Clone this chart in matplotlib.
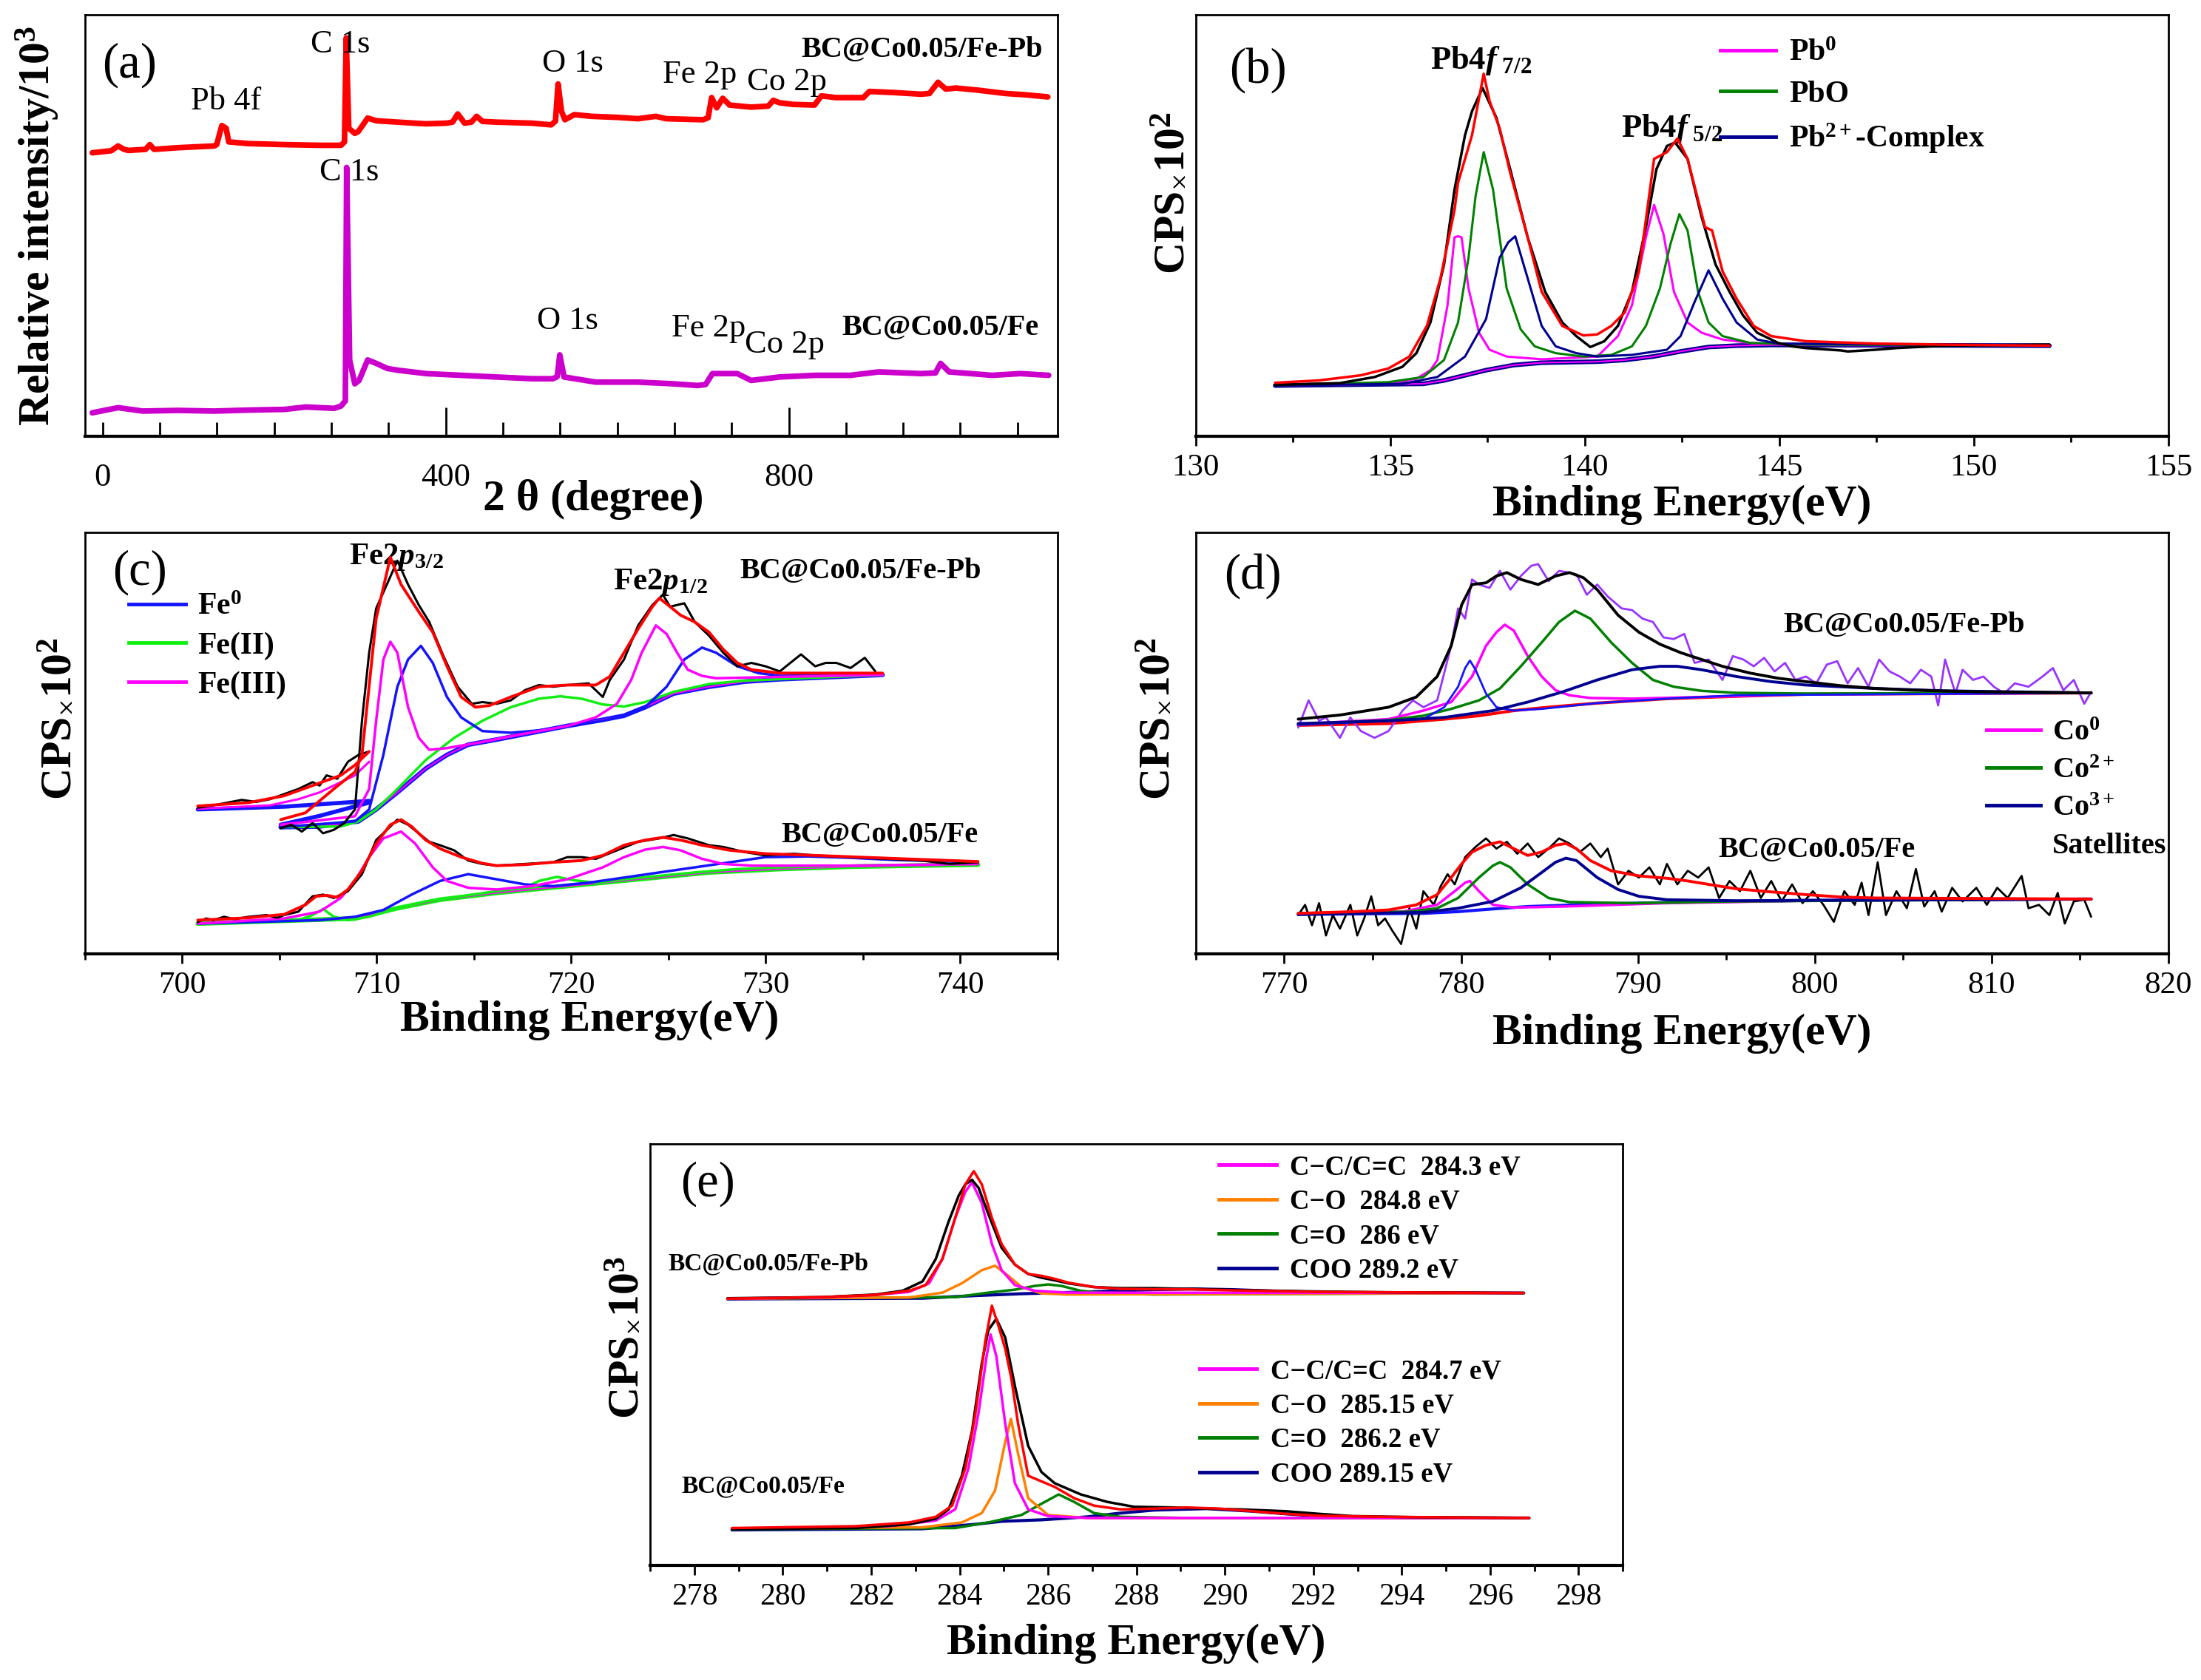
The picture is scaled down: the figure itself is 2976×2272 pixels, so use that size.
import matplotlib
matplotlib.use("Agg")
import matplotlib.pyplot as plt
from matplotlib.ticker import MultipleLocator, FixedLocator
from matplotlib.lines import Line2D

plt.rcParams['font.family'] = ['Liberation Serif', 'DejaVu Serif']
plt.rcParams['mathtext.fontset'] = 'custom'
plt.rcParams['mathtext.rm'] = 'Liberation Serif'
plt.rcParams['mathtext.it'] = 'Liberation Serif:italic'
plt.rcParams['mathtext.bf'] = 'Liberation Serif:bold'
try:
    plt.rcParams['mathtext.bfit'] = 'Liberation Serif:italic:bold'
except KeyError:
    pass

# ---------------- colours ----------------
RED = '#FF0000'; MAG = '#FF00FF'; GRN = '#008000'; LIME = '#11EE11'
BLUE = '#1414FF'; NAVY = '#000090'; ORANGE = '#FF8000'; PURPLE = '#9933FF'
A_MAG = '#CC00CC'

# ================= DATA (y in arbitrary counts) =================
# (a) survey spectra
A_FEPB = [(-12, 832), (10, 838), (18, 852), (25, 842), (30, 839), (50, 842), (55, 856), (60, 842), (88, 847),
          (130, 852), (133, 856), (139, 912), (144, 904), (147, 864), (170, 859), (212, 856), (253, 854),
          (278, 854), (282, 864), (284, 1169), (287, 904), (294, 889), (298, 894), (309, 934), (319, 926),
          (344, 922), (377, 917), (401, 919), (408, 922), (414, 946), (422, 919), (430, 922), (436, 939),
          (443, 924), (459, 922), (500, 919), (523, 914), (528, 925), (531, 1034), (535, 954), (539, 929),
          (550, 944), (570, 939), (600, 936), (624, 932), (645, 939), (657, 932), (700, 929), (706, 935),
          (710, 994), (716, 964), (723, 992), (731, 972), (756, 966), (776, 969), (782, 986), (789, 979),
          (805, 974), (830, 972), (838, 999), (855, 994), (887, 994), (894, 1012), (921, 1009), (954, 1004),
          (964, 1006), (974, 1039), (983, 1019), (995, 1022), (1020, 1016), (1053, 1006), (1077, 1002), (1102, 996)]
A_FE = [(-12, 69), (18, 84), (47, 74), (88, 76), (130, 74), (171, 77), (212, 79), (237, 86), (270, 82), (278, 89),
        (283, 104), (284.5, 789), (288, 224), (294, 154), (299, 164), (309, 224), (319, 214), (332, 199), (344, 194),
        (377, 184), (418, 179), (459, 174), (501, 169), (525, 169), (530, 175), (533, 239), (538, 174), (575, 159),
        (624, 159), (666, 154), (694, 149), (703, 152), (711, 184), (740, 184), (756, 164), (773, 169), (789, 174),
        (831, 179), (872, 179), (905, 189), (954, 184), (971, 186), (977, 214), (987, 189), (1037, 179),
        (1070, 184), (1103, 179)]
A_TICKS = [0, 400, 800]

# (b) Pb 4f
B_RAW = [(132.04, 151), (133.70, 156), (134.60, 174), (135.31, 204), (135.67, 244), (136.03, 334), (136.38, 504),
         (136.65, 724), (136.92, 884), (137.10, 954), (137.37, 1022), (137.73, 934), (138.08, 784), (138.53, 584),
         (138.98, 424), (139.42, 334), (139.78, 294), (140.14, 262), (140.50, 279), (140.85, 324), (141.21, 424),
         (141.57, 614), (141.84, 784), (142.11, 852), (142.32, 862), (142.64, 814), (143.00, 644), (143.36, 504),
         (143.72, 424), (144.07, 354), (144.43, 304), (144.97, 274), (145.33, 264), (145.68, 259), (146.58, 252),
         (146.76, 249), (147.47, 254), (148.01, 259), (148.54, 262), (149.26, 266), (151.94, 269)]
B_FIT = [(132.04, 157), (133.17, 164), (134.24, 179), (134.95, 199), (135.49, 234), (135.94, 324), (136.29, 464),
         (136.65, 664), (136.74, 744), (137.10, 884), (137.40, 1064), (137.55, 984), (137.81, 904), (138.08, 774),
         (138.53, 584), (138.89, 424), (139.42, 324), (139.96, 296), (140.32, 299), (140.68, 324), (141.03, 364),
         (141.39, 484), (141.78, 814), (142.11, 834), (142.38, 874), (142.64, 814), (143.09, 614), (143.27, 604),
         (143.54, 484), (143.90, 404), (144.34, 324), (144.79, 294), (145.68, 279), (147.47, 272), (149.26, 269),
         (151.94, 266)]
B_BG = [(132.04, 149), (135.85, 154), (136.38, 164), (136.74, 174), (137.46, 194), (138.17, 209), (138.89, 216),
        (140.32, 219), (141.03, 224), (141.75, 234), (142.46, 249), (143.18, 262), (143.90, 266), (144.79, 268),
        (151.94, 266)]
B_PB0 = [(132.04, 149), (134.95, 154), (135.67, 169), (136.03, 194), (136.21, 224), (136.47, 384), (136.65, 584),
         (136.74, 587), (136.83, 584), (137.01, 434), (137.28, 304), (137.55, 254), (137.99, 234), (138.89, 226),
         (140.32, 234), (140.85, 294), (141.21, 384), (141.57, 584), (141.78, 679), (142.02, 594), (142.29, 424),
         (142.64, 334), (143.00, 304), (143.54, 284), (144.25, 274), (145.68, 268), (151.94, 266)]
B_PBO = [(132.04, 149), (134.95, 159), (135.85, 174), (136.38, 224), (136.74, 334), (137.01, 524), (137.19, 704),
         (137.40, 834), (137.64, 724), (137.99, 434), (138.35, 314), (138.71, 264), (139.25, 244), (139.96, 234),
         (140.68, 239), (141.21, 264), (141.57, 324), (141.93, 434), (142.20, 564), (142.43, 652), (142.64, 604),
         (142.91, 424), (143.18, 334), (143.54, 294), (144.25, 274), (145.68, 269), (151.94, 266)]
B_PB2 = [(132.04, 149), (135.31, 154), (136.21, 174), (136.92, 234), (137.46, 344), (137.81, 524), (138.03, 569),
         (138.21, 587), (138.53, 464), (138.89, 324), (139.25, 264), (139.78, 244), (140.32, 234), (141.21, 239),
         (142.11, 254), (142.46, 294), (142.82, 394), (143.18, 487), (143.54, 404), (143.90, 334), (144.43, 284),
         (144.97, 272), (151.94, 266)]
B_LABELS = [r'$\mathbf{Pb^0}$', 'PbO', r'$\mathbf{Pb^{2+}}$-Complex']

# (c) Fe 2p  -- upper: BC@Co0.05/Fe-Pb
C_PB_RAW_A = [(700.80, 429), (701.60, 436), (702.33, 444), (703.06, 452), (703.79, 446), (704.51, 454), (705.24, 469),
              (705.97, 484), (706.70, 504), (707.06, 494), (707.42, 524), (707.97, 514), (708.52, 564), (709.06, 584),
              (709.61, 594)]
C_PB_RAW = [(705.06, 369), (705.61, 379), (706.15, 359), (706.70, 384), (707.24, 354), (707.79, 364), (708.33, 384),
            (708.88, 424), (709.24, 684), (709.61, 884), (709.97, 1014), (710.52, 1084), (711.06, 1154), (711.61, 1084),
            (712.16, 1024), (712.70, 974), (713.43, 874), (714.16, 784), (714.89, 734), (715.43, 739), (716.16, 734),
            (716.89, 744), (717.62, 774), (718.34, 789), (719.07, 784), (719.80, 789), (720.89, 794), (721.62, 754),
            (721.98, 804), (722.71, 864), (723.44, 964), (724.17, 1024), (724.71, 1054), (725.08, 1019), (725.81, 1029),
            (726.35, 974), (727.08, 934), (727.81, 884), (728.54, 844), (729.26, 854), (729.99, 844), (730.72, 829),
            (731.26, 854), (731.81, 879), (732.54, 844), (733.08, 854), (733.63, 854), (734.36, 839), (735.09, 869),
            (735.63, 829)]
C_PB_FIT_A = [(700.80, 434), (703.42, 444), (705.24, 464), (706.70, 494), (707.42, 509), (708.15, 524), (708.88, 554),
              (709.61, 594)]
C_PB_FIT = [(705.06, 394), (706.33, 414), (707.79, 484), (708.88, 534), (709.24, 584), (709.97, 984), (710.70, 1164),
            (711.25, 1084), (712.16, 1004), (712.88, 944), (713.61, 844), (714.34, 754), (715.07, 724), (715.80, 729),
            (716.89, 754), (718.34, 784), (719.80, 789), (721.26, 789), (721.98, 814), (722.71, 884), (723.44, 954),
            (724.17, 1019), (724.53, 1044), (725.08, 1019), (725.62, 994), (726.35, 974), (727.08, 944), (727.81, 894),
            (728.54, 854), (729.26, 834), (730.72, 824), (732.54, 824), (736.00, 824)]
C_PB_BG = [(705.06, 372), (707.06, 374), (709.06, 389), (709.97, 424), (711.06, 474), (712.52, 544), (713.61, 584),
           (714.70, 614), (716.16, 629), (717.98, 649), (719.80, 669), (721.62, 687), (722.71, 699), (723.80, 724),
           (725.26, 764), (727.08, 784), (728.90, 799), (730.72, 806), (736.00, 819)]
C_PB_FE0 = [(705.06, 372), (708.88, 389), (709.61, 424), (710.34, 584), (711.06, 784), (711.61, 864), (712.27, 904),
            (712.88, 854), (713.61, 754), (714.34, 694), (715.43, 654), (716.89, 649), (718.34, 656), (719.80, 669),
            (721.62, 684), (722.71, 699), (723.80, 724), (724.90, 784), (725.81, 864), (726.72, 899), (727.44, 884),
            (728.54, 844), (729.63, 824), (730.72, 816), (736.00, 821)]
C_PB_FE2 = [(705.06, 372), (708.15, 374), (709.06, 389), (709.97, 424), (711.06, 484), (712.52, 569), (713.98, 634),
            (715.43, 684), (716.89, 724), (718.34, 749), (719.44, 756), (720.53, 749), (721.62, 732), (722.71, 726),
            (723.80, 739), (725.26, 769), (727.08, 792), (728.90, 802), (736.00, 819)]
C_PB_FE3 = [(705.06, 379), (708.88, 404), (709.61, 484), (709.97, 684), (710.34, 864), (710.70, 916), (711.06, 884),
            (711.61, 724), (712.16, 634), (712.70, 599), (713.61, 604), (715.43, 622), (716.89, 639), (718.34, 654),
            (719.80, 669), (721.26, 694), (722.35, 734), (723.08, 804), (723.62, 884), (724.35, 964), (724.90, 939),
            (725.44, 884), (725.99, 834), (726.72, 816), (727.44, 809), (736.00, 819)]
C_PB_FE0_A = [(700.80, 424), (705.24, 432), (709.61, 449)]
C_PB_FE0_A2 = [(705.06, 379), (707.06, 405), (709.61, 444)]
C_PB_FE3_A = [(700.80, 426), (704.51, 436), (705.97, 454), (707.06, 474), (708.15, 504), (708.88, 524), (709.61, 564)]
C_PB_FE2_A = [(700.80, 424), (709.61, 444)]
# (c) lower: BC@Co0.05/Fe
C_FE_RAW = [(700.80, 94), (701.24, 104), (701.60, 99), (702.15, 109), (702.69, 102), (703.42, 109), (704.33, 114),
            (704.88, 106), (705.24, 114), (705.97, 124), (706.70, 169), (707.24, 174), (707.79, 164), (708.52, 184),
            (709.24, 234), (709.97, 334), (710.52, 364), (711.06, 394), (711.61, 379), (712.16, 354), (712.70, 329),
            (713.25, 319), (713.98, 304), (714.70, 274), (715.43, 264), (716.16, 259), (717.62, 264), (719.07, 269),
            (719.80, 284), (720.53, 284), (721.26, 279), (722.35, 304), (723.44, 329), (724.53, 339), (725.26, 349),
            (725.99, 339), (727.08, 319), (727.81, 314), (728.90, 299), (729.99, 289), (731.45, 294), (732.54, 289),
            (734.36, 284), (736.18, 279), (738.00, 274), (739.45, 264), (740.91, 269)]
C_FE_FIT = [(700.80, 99), (703.42, 106), (705.24, 116), (706.33, 144), (706.88, 169), (707.42, 172), (707.97, 166),
            (708.52, 189), (709.24, 244), (709.97, 324), (710.70, 379), (711.25, 394), (711.79, 374), (712.52, 334),
            (713.25, 309), (714.34, 284), (715.43, 266), (716.16, 259), (717.62, 262), (719.07, 269), (720.53, 274),
            (721.62, 289), (722.71, 319), (723.80, 334), (724.71, 342), (725.62, 334), (726.72, 319), (728.17, 304),
            (729.99, 294), (732.54, 289), (736.18, 281), (740.91, 271)]
C_FE_FE3 = [(700.80, 89), (705.24, 104), (707.06, 124), (708.15, 164), (708.88, 214), (709.61, 284), (710.34, 339),
            (711.25, 359), (711.97, 324), (712.88, 254), (713.61, 214), (714.70, 194), (716.16, 189), (717.98, 199),
            (719.80, 219), (721.62, 254), (722.71, 284), (723.80, 306), (724.71, 314), (725.62, 304), (726.72, 279),
            (727.81, 264), (729.26, 259), (734.36, 259), (740.91, 264)]
C_FE_FE0 = [(700.80, 89), (707.06, 99), (708.88, 109), (710.34, 129), (711.79, 174), (713.25, 214), (714.70, 234),
            (716.16, 219), (717.62, 204), (719.07, 199), (720.89, 209), (722.71, 224), (724.53, 239), (726.35, 254),
            (728.17, 269), (729.99, 284), (732.17, 286), (734.36, 282), (736.54, 276), (740.91, 269)]
C_FE_FE2 = [(700.80, 89), (705.97, 99), (706.70, 114), (707.24, 132), (707.79, 109), (708.52, 99), (709.61, 109),
            (711.06, 134), (712.52, 154), (714.34, 169), (716.16, 184), (717.62, 194), (718.34, 214), (719.25, 226),
            (720.16, 216), (721.26, 209), (722.71, 219), (724.53, 229), (726.35, 239), (728.54, 249), (730.72, 254),
            (734.36, 259), (740.91, 264)]
C_FE_BG = [(700.80, 89), (708.88, 104), (711.06, 134), (713.25, 159), (716.16, 179), (719.80, 199), (723.44, 219),
           (727.08, 239), (730.72, 249), (734.36, 256), (740.91, 262)]
C_LABELS = [r'$\mathbf{Fe^0}$', 'Fe(II)', 'Fe(III)']

# (d) Co 2p -- upper: BC@Co0.05/Fe-Pb
D_PB_RAW = [(770.79, 664), (771.38, 744), (771.97, 684), (772.36, 694), (773.15, 634), (773.74, 694), (774.33, 654),
            (775.11, 634), (775.90, 654), (776.69, 714), (777.28, 744), (777.87, 724), (778.65, 744), (779.44, 904),
            (779.83, 1014), (780.23, 984), (780.62, 1099), (781.01, 1084), (781.61, 1074), (782.20, 1124), (782.79, 1069),
            (783.38, 1109), (783.97, 1139), (784.36, 1144), (784.95, 1094), (785.54, 1124), (786.13, 1119), (786.52, 1114),
            (787.11, 1054), (787.70, 1084), (788.29, 1049), (789.08, 1014), (789.67, 1009), (790.26, 984), (790.85, 974),
            (791.44, 929), (792.03, 924), (792.62, 939), (793.21, 854), (794.00, 864), (794.78, 804), (795.37, 874),
            (795.96, 864), (796.55, 844), (797.14, 869), (797.73, 829), (798.32, 854), (798.91, 804), (799.50, 814),
            (800.09, 794), (800.68, 849), (801.27, 859), (801.86, 794), (802.45, 839), (803.04, 784), (803.64, 864),
            (804.23, 829), (804.81, 814), (805.40, 794), (806.00, 834), (806.59, 814), (806.98, 729), (807.37, 864),
            (807.96, 764), (808.36, 834), (808.95, 804), (809.54, 814), (810.13, 784), (810.72, 764), (811.31, 794),
            (812.09, 784), (812.88, 814), (813.47, 839), (814.06, 774), (814.65, 804), (815.24, 734), (815.63, 769)]
D_PB_ENV = [(770.79, 689), (773.15, 701), (775.90, 724), (777.47, 754), (778.65, 814), (779.44, 904), (780.03, 1024),
            (780.62, 1084), (781.41, 1089), (782.00, 1109), (782.59, 1119), (783.38, 1099), (784.36, 1084), (785.34, 1109),
            (786.13, 1119), (786.92, 1104), (787.70, 1069), (788.88, 994), (790.06, 944), (791.24, 909), (792.42, 884),
            (793.60, 864), (794.78, 844), (796.36, 824), (797.93, 809), (799.50, 799), (801.47, 787), (803.44, 779),
            (805.40, 774), (809.34, 769), (815.63, 766)]
D_PB_CO0 = [(770.79, 674), (775.90, 689), (777.87, 714), (779.44, 739), (780.62, 814), (781.41, 904), (782.00, 944),
            (782.47, 966), (782.98, 949), (783.77, 874), (784.56, 814), (785.34, 774), (786.13, 759), (787.31, 751),
            (789.67, 749), (793.60, 754), (799.50, 762), (815.63, 766)]
D_PB_CO2 = [(770.79, 674), (775.90, 686), (777.87, 699), (779.44, 719), (781.01, 744), (782.20, 779), (783.38, 844),
            (784.56, 914), (785.54, 974), (786.44, 1007), (787.31, 984), (788.49, 914), (789.67, 854), (790.85, 804),
            (792.03, 784), (793.60, 772), (795.57, 766), (799.50, 764), (815.63, 766)]
D_PB_NARROW = [(770.79, 672), (777.87, 689), (779.05, 724), (779.83, 784), (780.23, 839), (780.50, 861), (780.82, 834),
               (781.41, 764), (782.00, 724), (782.98, 714), (784.56, 719), (787.70, 736), (791.64, 749), (795.57, 759),
               (815.63, 766)]
D_PB_CO3 = [(770.79, 676), (775.90, 684), (779.05, 694), (781.80, 714), (783.77, 739), (785.74, 769), (787.70, 804),
            (789.67, 834), (791.24, 844), (792.23, 844), (793.60, 834), (795.57, 814), (797.54, 799), (799.50, 789),
            (803.44, 779), (807.37, 772), (815.63, 766)]
D_PB_BG = [(770.79, 671), (775.90, 676), (779.05, 689), (781.01, 699), (782.98, 714), (784.95, 724), (787.70, 736),
           (791.64, 749), (795.57, 756), (799.50, 762), (815.63, 766)]
# (d) lower: BC@Co0.05/Fe
D_FE_RAW = [(770.79, 114), (771.18, 144), (771.57, 84), (771.97, 149), (772.36, 54), (772.75, 114), (773.15, 74),
            (773.74, 144), (774.13, 54), (774.52, 104), (774.92, 169), (775.31, 84), (775.70, 104), (776.10, 69),
            (776.61, 29), (777.08, 134), (777.47, 74), (777.87, 184), (778.46, 144), (778.85, 199), (779.24, 234),
            (779.64, 204), (780.23, 284), (780.82, 314), (781.41, 339), (782.00, 309), (782.59, 329), (783.18, 294),
            (783.77, 324), (784.36, 284), (784.95, 309), (785.54, 339), (786.13, 324), (786.72, 299), (787.31, 324),
            (787.90, 284), (788.29, 309), (788.88, 204), (789.47, 244), (790.06, 224), (790.65, 254), (791.24, 204),
            (791.64, 264), (792.23, 204), (792.82, 244), (793.41, 224), (794.00, 254), (794.59, 164), (795.18, 214),
            (795.77, 184), (796.36, 244), (796.95, 164), (797.54, 214), (798.13, 154), (798.72, 204), (799.31, 149),
            (799.90, 184), (800.49, 144), (801.08, 94), (801.67, 184), (802.26, 144), (802.65, 209), (803.04, 114),
            (803.56, 269), (804.03, 114), (804.62, 184), (805.21, 134), (805.72, 249), (806.19, 139), (806.78, 184),
            (807.18, 124), (807.77, 194), (808.36, 154), (809.14, 194), (809.73, 144), (810.32, 194), (810.91, 164),
            (811.70, 229), (812.09, 134), (812.68, 144), (813.27, 114), (813.74, 179), (814.14, 89), (814.65, 154),
            (815.24, 159), (815.63, 109)]
D_FE_FIT = [(770.79, 119), (773.93, 124), (775.90, 129), (777.47, 144), (778.65, 174), (779.44, 224), (780.03, 264),
            (780.62, 299), (781.41, 319), (782.20, 329), (782.98, 309), (783.77, 289), (784.56, 299), (785.34, 319),
            (785.93, 324), (786.52, 309), (787.31, 274), (788.49, 244), (790.06, 229), (791.64, 222), (792.82, 214),
            (794.00, 204), (795.57, 191), (797.54, 182), (799.50, 174), (801.47, 167), (803.44, 164), (815.63, 161)]
D_FE_CO0 = [(770.79, 119), (776.69, 124), (778.65, 144), (779.64, 184), (780.23, 209), (780.50, 214), (781.01, 184),
            (781.80, 144), (782.98, 136), (785.74, 139), (791.64, 149), (799.50, 156), (815.63, 161)]
D_FE_CO2 = [(770.79, 119), (777.08, 124), (778.65, 134), (779.83, 164), (781.01, 224), (781.80, 259), (782.20, 269),
            (782.79, 254), (783.77, 204), (784.95, 164), (786.13, 152), (789.67, 149), (795.57, 154), (815.63, 161)]
D_FE_CO3 = [(770.79, 116), (777.87, 122), (779.83, 134), (781.80, 154), (783.38, 194), (784.56, 239), (785.34, 269),
            (785.93, 281), (786.52, 274), (787.70, 224), (788.88, 189), (790.06, 169), (791.64, 159), (795.57, 156),
            (815.63, 161)]
D_FE_BG = [(770.79, 116), (777.87, 119), (779.83, 124), (781.80, 132), (783.77, 139), (787.70, 146), (791.64, 151),
           (799.50, 157), (815.63, 161)]
D_LABELS = [r'$\mathbf{Co^0}$', r'$\mathbf{Co^{2+}}$', r'$\mathbf{Co^{3+}}$', 'Satellites']

# (e) C 1s -- upper: BC@Co0.05/Fe-Pb
E_PB_RAW = [(278.75, 715), (280.91, 718), (282.11, 725), (282.71, 735), (283.16, 760), (283.46, 820), (283.75, 920),
            (283.98, 990), (284.13, 1020), (284.28, 1032), (284.43, 1010), (284.65, 940), (284.95, 850), (285.25, 805),
            (285.55, 780), (285.85, 770), (286.15, 763), (286.45, 755), (287.04, 745), (287.64, 742), (288.39, 742),
            (289.14, 740), (289.88, 738), (290.63, 736), (292.13, 733), (293.62, 731), (295.12, 730), (296.76, 729)]
E_PB_FIT = [(278.75, 714), (280.91, 718), (282.11, 724), (282.86, 735), (283.23, 750), (283.61, 820), (283.90, 930),
            (284.13, 1020), (284.32, 1055), (284.50, 1020), (284.73, 930), (284.95, 860), (285.25, 805), (285.55, 780),
            (285.85, 775), (286.15, 767), (286.45, 757), (287.04, 745), (287.64, 740), (288.39, 739), (289.14, 739),
            (289.88, 737), (290.63, 735), (292.13, 732), (293.62, 731), (295.12, 730), (296.76, 729)]
E_PB_CC = [(278.75, 714), (280.91, 717), (282.11, 724), (282.86, 732), (283.31, 755), (283.61, 820), (283.90, 930),
           (284.13, 1000), (284.28, 1025), (284.50, 970), (284.73, 860), (284.95, 790), (285.25, 750), (285.70, 735),
           (286.45, 730), (296.76, 729)]
E_PB_CO = [(278.75, 714), (282.86, 717), (283.61, 730), (284.05, 755), (284.50, 790), (284.80, 802), (285.10, 775),
           (285.40, 745), (285.85, 728), (286.45, 725), (296.76, 729)]
E_PB_CEO = [(278.75, 714), (283.90, 718), (284.65, 730), (285.25, 738), (285.70, 748), (286.00, 752), (286.30, 748),
            (286.74, 735), (287.34, 728), (288.39, 725), (296.76, 729)]
E_PB_COO = [(278.75, 713), (283.16, 715), (284.35, 722), (285.40, 727), (286.89, 732), (288.39, 738), (289.29, 740),
            (290.18, 738), (291.38, 733), (292.87, 730), (296.76, 729)]
# (e) lower: BC@Co0.05/Fe
E_FE_RAW = [(278.85, 97), (281.66, 100), (282.86, 110), (283.46, 125), (283.75, 150), (284.05, 240), (284.28, 360),
            (284.50, 540), (284.65, 630), (284.83, 660), (285.03, 610), (285.25, 480), (285.55, 320), (285.85, 250),
            (286.15, 220), (286.74, 190), (287.34, 170), (287.94, 157), (288.84, 155), (289.58, 152), (290.33, 150),
            (291.38, 145), (292.13, 138), (292.87, 132), (294.37, 129), (296.88, 127)]
E_FE_FIT = [(278.85, 100), (281.66, 105), (282.86, 115), (283.46, 130), (283.83, 160), (284.13, 260), (284.35, 400),
            (284.58, 600), (284.73, 695), (284.88, 640), (285.03, 580), (285.17, 500), (285.32, 380), (285.55, 240),
            (285.85, 225), (286.15, 210), (286.59, 180), (287.04, 160), (287.64, 150), (288.39, 152), (289.14, 155),
            (289.88, 152), (290.63, 145), (291.38, 138), (292.13, 133), (293.62, 130), (296.88, 127)]
E_FE_CC = [(278.85, 98), (282.41, 105), (283.46, 120), (283.90, 150), (284.20, 260), (284.43, 410), (284.61, 560),
           (284.70, 618), (284.83, 560), (285.03, 380), (285.25, 220), (285.55, 150), (286.00, 132), (286.89, 127),
           (296.88, 127)]
E_FE_CO = [(278.85, 98), (283.16, 102), (284.05, 115), (284.50, 140), (284.80, 200), (285.03, 330), (285.16, 392),
           (285.32, 300), (285.55, 180), (286.00, 135), (286.89, 127), (296.88, 127)]
E_FE_CEO = [(278.85, 97), (283.90, 100), (284.65, 115), (285.40, 135), (285.85, 165), (286.24, 190), (286.59, 170),
            (287.04, 140), (287.64, 130), (289.14, 127), (296.88, 127)]
E_FE_COO = [(278.85, 95), (283.16, 98), (284.35, 110), (284.95, 118), (285.85, 122), (286.89, 130), (287.64, 140),
            (288.39, 148), (289.58, 152), (290.63, 145), (291.38, 138), (292.13, 132), (293.62, 128), (296.88, 127)]
E_PB_LABELS = ['C\u2212C/C=C  284.3 eV', 'C\u2212O  284.8 eV', 'C=O  286 eV', 'COO 289.2 eV']
E_FE_LABELS = ['C\u2212C/C=C  284.7 eV', 'C\u2212O  285.15 eV', 'C=O  286.2 eV', 'COO 289.15 eV']

SAMPLE_PB = 'BC@Co0.05/Fe-Pb'
SAMPLE_FE = 'BC@Co0.05/Fe'

# ================= FIGURE =================
fig = plt.figure(figsize=(29.76, 22.72), dpi=100)
W, H = 0.4419, 0.2509
axA = fig.add_axes([0.0386, 0.7403, W, H])
axB = fig.add_axes([0.5433, 0.7403, W, H])
axC = fig.add_axes([0.0386, 0.4322, W, H])
axD = fig.add_axes([0.5433, 0.4322, W, H])
axE = fig.add_axes([0.2954, 0.0682, W, H])

YMAX = 1237


def curve(ax, pts, color, lw=2.0, z=2):
    xs = [p[0] for p in pts]
    ys = [p[1] for p in pts]
    ax.plot(xs, ys, color=color, lw=lw, zorder=z, solid_joinstyle='round', solid_capstyle='round')


def style(ax, xlim, ylim, major, minor, labelsize=31, pad=8):
    ax.set_xlim(*xlim)
    ax.set_ylim(*ylim)
    ax.xaxis.set_major_locator(MultipleLocator(major))
    ax.xaxis.set_minor_locator(MultipleLocator(minor))
    ax.tick_params(axis='x', which='both', direction='out', top=False, width=2, labelsize=labelsize, pad=pad)
    ax.tick_params(axis='x', which='major', length=9)
    ax.tick_params(axis='x', which='minor', length=6)
    ax.set_yticks([])
    for s in ax.spines.values():
        s.set_linewidth(2)
    ax.spines['bottom'].set_linewidth(3)


def labels(ax, xl, xpos, ylab, ypos):
    ax.text(xpos[0], xpos[1], xl, transform=ax.transAxes, ha='center', va='center',
            fontsize=43, fontweight='bold')
    ax.text(ypos[0], ypos[1], ylab, transform=ax.transAxes, ha='center', va='center',
            fontsize=43, fontweight='bold', rotation=90)


CPS2 = r'$\mathbf{CPS}_{\times}\mathbf{10^2}$'
CPS3 = r'$\mathbf{CPS}_{\times}\mathbf{10^3}$'
BE = 'Binding Energy(eV)'

# ---------- (a) ----------
ax = axA
curve(ax, A_FE, A_MAG, lw=5.5)
curve(ax, A_FEPB, RED, lw=5.5)
ax.set_xlim(-20.6, 1113.4)
ax.set_ylim(0, YMAX)
ax.xaxis.set_major_locator(FixedLocator(A_TICKS))
ax.xaxis.set_minor_locator(MultipleLocator(400 / 6))
ax.tick_params(axis='x', which='both', direction='in', top=False, width=2, labelsize=32, pad=26)
ax.tick_params(axis='x', which='major', length=28)
ax.tick_params(axis='x', which='minor', length=14)
ax.set_yticks([])
for s in ax.spines.values():
    s.set_linewidth(2)
ax.spines['bottom'].set_linewidth(3)
ax.xaxis.get_major_ticks()[0].tick1line.set_markersize(14)
ax.text(31, 1089, '(a)', fontsize=48, ha='center', va='center')
for t, x, y in [('Pb 4f', 144, 984), ('C 1s', 277.5, 1151), ('O 1s', 548, 1093), ('Fe 2p', 696.5, 1062),
                ('Co 2p', 798, 1039), ('C 1s', 287.4, 774), ('O 1s', 542, 339), ('Fe 2p', 706.4, 317),
                ('Co 2p', 795.4, 269)]:
    ax.text(x, y, t, fontsize=32, ha='center', va='center')
ax.text(1095.7, 1134, SAMPLE_PB, fontsize=29, fontweight='bold', ha='right', va='center')
ax.text(1091.5, 317, SAMPLE_FE, fontsize=29, fontweight='bold', ha='right', va='center')
labels(ax, '2 \u03b8 (degree)', (0.523, -0.150), r'Relative intensity/10$^{\mathbf{3}}$', (-0.049, 0.50))

# ---------- (b) ----------
ax = axB
curve(ax, B_BG, NAVY, lw=4.5, z=2)
curve(ax, B_BG, MAG, lw=1.5, z=2)
curve(ax, B_PB0, MAG, lw=2.2, z=3)
curve(ax, B_PBO, GRN, lw=2.2, z=3)
curve(ax, B_PB2, NAVY, lw=2.2, z=3)
curve(ax, B_RAW, 'black', lw=2.5, z=4)
curve(ax, B_FIT, RED, lw=2.5, z=5)
style(ax, (130, 155), (0, YMAX), 5, 2.5)
ax.text(131.6, 1074, '(b)', fontsize=48, ha='center', va='center')
ax.text(136.03, 1079, r'$\mathbf{Pb4}\mathbfit{f}_{\ \mathbf{7/2}}$', fontsize=32, ha='left', va='baseline')
ax.text(140.94, 879, r'$\mathbf{Pb4}\mathbfit{f}_{\ \mathbf{5/2}}$', fontsize=32, ha='left', va='baseline')
hb = [Line2D([], [], color=c, lw=3.5) for c in (MAG, GRN, NAVY)]
ax.legend(hb, B_LABELS, loc='upper left', bbox_to_anchor=(0.539, 0.942), frameon=False, borderpad=0,
          borderaxespad=0, handlelength=1.8, handletextpad=0.45, labelspacing=0.42,
          prop={'family': 'Liberation Serif', 'weight': 'bold', 'size': 30})
labels(ax, BE, (0.50, -0.162), CPS2, (-0.026, 0.577))

# ---------- (c) ----------
ax = axC
curve(ax, C_PB_FE2_A, LIME, lw=2.2, z=2)
curve(ax, C_PB_FE0_A, BLUE, lw=4.0, z=3)
curve(ax, C_PB_FE0_A2, BLUE, lw=4.0, z=3)
curve(ax, C_PB_FE3_A, MAG, lw=2.2, z=3)
curve(ax, C_PB_BG, BLUE, lw=4.5, z=2)
curve(ax, C_PB_BG, MAG, lw=1.5, z=2)
curve(ax, C_PB_FE2, LIME, lw=2.5, z=3)
curve(ax, C_PB_FE0, BLUE, lw=2.5, z=3)
curve(ax, C_PB_FE3, MAG, lw=2.5, z=3)
curve(ax, C_PB_RAW_A, 'black', lw=2.2, z=4)
curve(ax, C_PB_RAW, 'black', lw=2.2, z=4)
curve(ax, C_PB_FIT_A, RED, lw=2.8, z=5)
curve(ax, C_PB_FIT, RED, lw=2.8, z=5)
curve(ax, C_FE_BG, LIME, lw=4.5, z=2)
curve(ax, C_FE_BG, MAG, lw=1.5, z=2)
curve(ax, C_FE_FE2, LIME, lw=2.5, z=3)
curve(ax, C_FE_FE0, BLUE, lw=2.5, z=3)
curve(ax, C_FE_FE3, MAG, lw=2.5, z=3)
curve(ax, C_FE_RAW, 'black', lw=2.2, z=4)
curve(ax, C_FE_FIT, RED, lw=2.8, z=5)
style(ax, (695, 745), (0, YMAX), 10, 5)
ax.text(697.8, 1119, '(c)', fontsize=48, ha='center', va='center')
ax.text(708.59, 1144, r'$\mathbf{Fe2}\mathbfit{p}_{\mathbf{3/2}}$', fontsize=31, ha='left', va='baseline')
ax.text(722.17, 1069, r'$\mathbf{Fe2}\mathbfit{p}_{\mathbf{1/2}}$', fontsize=31, ha='left', va='baseline')
ax.text(741.09, 1124, SAMPLE_PB, fontsize=29, fontweight='bold', ha='right', va='center')
ax.text(740.91, 349, SAMPLE_FE, fontsize=29, fontweight='bold', ha='right', va='center')
hc = [Line2D([], [], color=c, lw=3.5) for c in (BLUE, LIME, MAG)]
ax.legend(hc, C_LABELS, loc='upper left', bbox_to_anchor=(0.0446, 0.856), frameon=False, borderpad=0,
          borderaxespad=0, handlelength=1.85, handletextpad=0.4, labelspacing=0.34,
          prop={'family': 'Liberation Serif', 'weight': 'bold', 'size': 30})
labels(ax, BE, (0.519, -0.157), CPS2, (-0.028, 0.557))

# ---------- (d) ----------
ax = axD
curve(ax, D_PB_BG, RED, lw=3.0, z=2)
curve(ax, D_PB_CO0, MAG, lw=2.5, z=3)
curve(ax, D_PB_CO2, GRN, lw=2.5, z=3)
curve(ax, D_PB_NARROW, BLUE, lw=2.0, z=3)
curve(ax, D_PB_CO3, NAVY, lw=2.8, z=3)
curve(ax, D_PB_RAW, PURPLE, lw=2.0, z=2)
curve(ax, D_PB_ENV, 'black', lw=2.8, z=5)
curve(ax, D_FE_BG, BLUE, lw=3.0, z=2)
curve(ax, D_FE_CO0, MAG, lw=2.5, z=3)
curve(ax, D_FE_CO2, GRN, lw=2.5, z=3)
curve(ax, D_FE_CO3, NAVY, lw=2.8, z=3)
curve(ax, D_FE_RAW, 'black', lw=2.0, z=2)
curve(ax, D_FE_FIT, RED, lw=2.8, z=5)
style(ax, (765, 820), (0, YMAX), 10, 5)
ax.text(768.2, 1109, '(d)', fontsize=48, ha='center', va='center')
ax.text(805.05, 964, SAMPLE_PB, fontsize=29, fontweight='bold', ha='center', va='center')
ax.text(800.13, 304, SAMPLE_FE, fontsize=29, fontweight='bold', ha='center', va='center')
hd = [Line2D([], [], color=c, lw=3.5) for c in (MAG, GRN, NAVY, 'none')]
ax.legend(hd, D_LABELS, loc='upper left', bbox_to_anchor=(0.813, 0.556), frameon=False, borderpad=0,
          borderaxespad=0, handlelength=1.8, handletextpad=0.4, labelspacing=0.34,
          prop={'family': 'Liberation Serif', 'weight': 'bold', 'size': 29})
labels(ax, BE, (0.50, -0.19), CPS2, (-0.041, 0.557))

# ---------- (e) ----------
ax = axE
curve(ax, E_PB_COO, NAVY, lw=3.0, z=2)
curve(ax, E_PB_CEO, GRN, lw=2.5, z=3)
curve(ax, E_PB_CO, ORANGE, lw=2.5, z=3)
curve(ax, E_PB_CC, MAG, lw=2.5, z=3)
curve(ax, E_PB_RAW, 'black', lw=2.5, z=4)
curve(ax, E_PB_FIT, RED, lw=2.5, z=5)
curve(ax, E_FE_COO, NAVY, lw=3.0, z=2)
curve(ax, E_FE_CEO, GRN, lw=2.5, z=3)
curve(ax, E_FE_CO, ORANGE, lw=2.5, z=3)
curve(ax, E_FE_CC, MAG, lw=2.5, z=3)
curve(ax, E_FE_RAW, 'black', lw=2.5, z=4)
curve(ax, E_FE_FIT, RED, lw=2.5, z=5)
style(ax, (277, 299), (0, 1128), 2, 1, labelsize=30)
ax.text(278.3, 1020, '(e)', fontsize=48, ha='center', va='center')
ax.text(277.4, 808, SAMPLE_PB, fontsize=24, fontweight='bold', ha='left', va='center')
ax.text(277.7, 212, SAMPLE_FE, fontsize=24, fontweight='bold', ha='left', va='center')
he = [Line2D([], [], color=c, lw=3.5) for c in (MAG, ORANGE, GRN, NAVY)]
eprop = {'family': 'Liberation Serif', 'weight': 'bold', 'size': 26.5}
leg1 = ax.legend(he, E_PB_LABELS, loc='upper left', bbox_to_anchor=(0.585, 0.975), frameon=False, borderpad=0,
                 borderaxespad=0, handlelength=2.1, handletextpad=0.5, labelspacing=0.31, prop=eprop)
ax.add_artist(leg1)
ax.legend(he, E_FE_LABELS, loc='upper left', bbox_to_anchor=(0.565, 0.491), frameon=False, borderpad=0,
          borderaxespad=0, handlelength=2.1, handletextpad=0.5, labelspacing=0.31, prop=eprop)
labels(ax, BE, (0.50, -0.185), CPS3, (-0.026, 0.541))

fig.savefig('out.png', dpi=100)
